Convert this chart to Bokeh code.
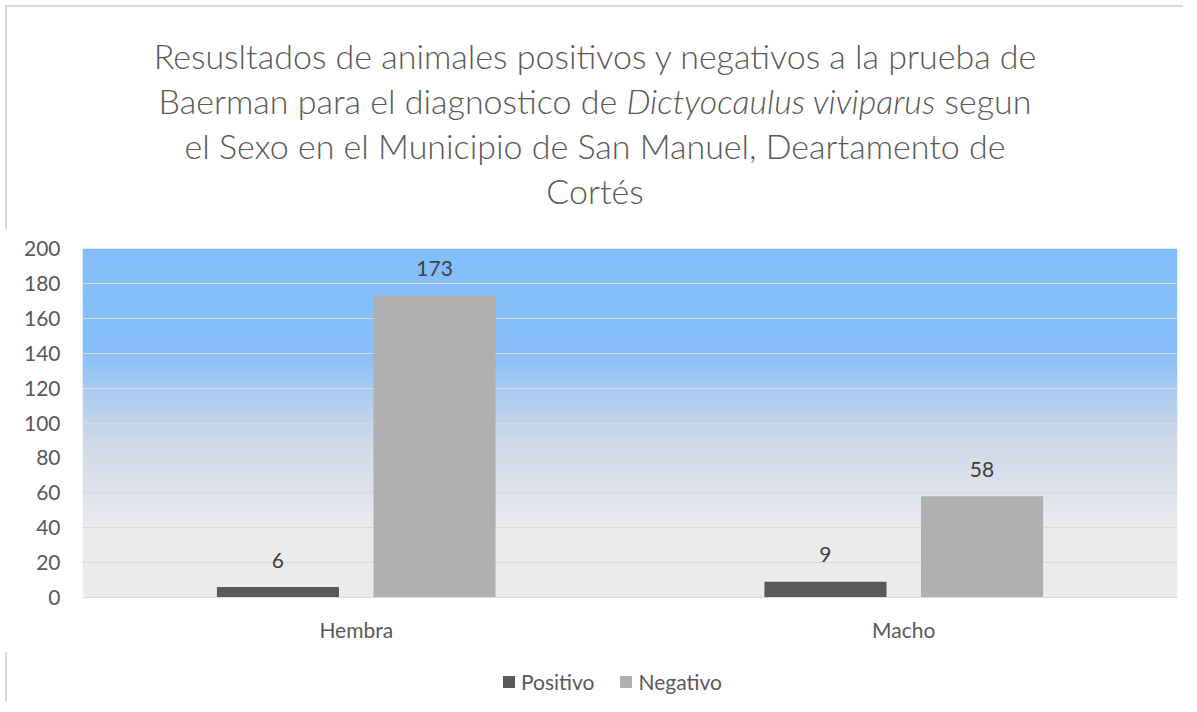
import numpy as np
from bokeh.plotting import figure
from bokeh.models import ColumnDataSource, FactorRange, Div, FixedTicker, Range1d
from bokeh.transform import dodge
from bokeh.layouts import column
from bokeh.embed import file_html
from bokeh.resources import INLINE
from bokeh.core.properties import value

# ---- data ----
categories = ["Hembra", "Macho"]
series_names = ["Positivo", "Negativo"]
series_colors = ["#595959", "#b0b0b0"]
positivo = [6, 9]
negativo = [173, 58]
y_ticks = [0, 20, 40, 60, 80, 100, 120, 140, 160, 180, 200]

FONT = "Lato"
TXT = "#595959"
FS = "21px"

src = ColumnDataSource(dict(
    cat=categories,
    pos=positivo,
    neg=negativo,
    pos_lbl=[str(v) for v in positivo],
    neg_lbl=[str(v) for v in negativo],
))

title_html = (
    '<div style="font-family:Lato;font-weight:300;font-size:34px;color:#595959;'
    'text-align:center;line-height:45px;padding-top:26px;width:1178px;height:224px;'
    'border-top:2px solid #d9d9d9;border-left:2px solid #d9d9d9;box-sizing:border-box;">'
    'Resusltados de animales positivos y negativos a la prueba de<br>'
    'Baerman para el diagnostico de <i>Dictyocaulus viviparus</i> segun<br>'
    'el Sexo en el Municipio de San Manuel, Deartamento de<br>'
    'Cortés</div>'
)
title = Div(text=title_html, width=1178, height=226)

p = figure(x_range=FactorRange(*categories), y_range=Range1d(0, y_ticks[-1]),
           width=1185, height=411,
           output_backend="svg", toolbar_location=None,
           min_border_left=82, min_border_right=8, min_border_top=12, min_border_bottom=50)
p.outline_line_color = None
p.background_fill_color = "white"
p.border_fill_color = "white"

# gradient background for the plot area
stops_pos = [0.0, 0.2, 0.45, 0.55, 0.7, 1.0]
stops_col = [(236, 236, 236), (234, 235, 237), (207, 217, 232), (182, 207, 238), (137, 192, 250), (130, 190, 252)]
n = 200
t = np.linspace(0, 1, n)
img = np.zeros((n, 1), dtype=np.uint32)
view = img.view(dtype=np.uint8).reshape((n, 1, 4))
for ch in range(3):
    view[:, 0, ch] = np.interp(t, stops_pos, [c[ch] for c in stops_col]).astype(np.uint8)
view[:, 0, 3] = 255
p.image_rgba(image=[img], x=0, y=0, dw=len(categories), dh=y_ticks[-1], level="image")

off = 0.143
bw = 0.223
p.vbar(x=dodge("cat", -off, range=p.x_range), top="pos", width=bw, source=src,
       fill_color=series_colors[0], line_color=None)
p.vbar(x=dodge("cat", off, range=p.x_range), top="neg", width=bw, source=src,
       fill_color=series_colors[1], line_color=None)

for fld, lbl, o in [("pos", "pos_lbl", -off), ("neg", "neg_lbl", off)]:
    p.text(x=dodge("cat", o, range=p.x_range), y=fld, text=lbl, source=src,
           text_align="center", text_baseline="alphabetic", y_offset=-27,
           text_font=value(FONT), text_font_size=FS, text_color="#404040")

p.ygrid.grid_line_color = "#d9d9d9"
p.xgrid.grid_line_color = None
p.yaxis.ticker = FixedTicker(ticks=y_ticks)
p.yaxis.axis_line_color = None
p.yaxis.major_tick_line_color = None
p.yaxis.minor_tick_line_color = None
p.yaxis.major_label_standoff = 16
p.yaxis.major_label_text_font = FONT
p.yaxis.major_label_text_font_size = FS
p.yaxis.major_label_text_color = TXT

p.xaxis.axis_line_color = "#d9d9d9"
p.xaxis.major_tick_line_color = None
p.xaxis.minor_tick_line_color = None
p.xaxis.major_label_standoff = 13
p.xaxis.major_label_text_font = FONT
p.xaxis.major_label_text_font_size = FS
p.xaxis.major_label_text_color = TXT

# legend (HTML, below the chart)
items_html = ""
for i, (name, col) in enumerate(zip(series_names, series_colors)):
    ml = "26px" if i > 0 else "0px"
    items_html += (
        f'<span style="display:inline-block;width:12px;height:12px;background:{col};'
        f'margin-left:{ml};margin-right:6px;vertical-align:middle;"></span>'
        f'<span style="vertical-align:middle;">{name}</span>'
    )
legend_html = (
    '<div style="font-family:Lato;font-size:21px;color:#595959;white-space:nowrap;'
    'padding-left:496px;padding-top:14px;line-height:26px;height:50px;width:1178px;'
    'border-left:2px solid #d9d9d9;box-sizing:border-box;">' + items_html + '</div>'
)
legend_div = Div(text=legend_html, width=1178, height=52)

layout = column(title, p, legend_div)

open("out.html", "w").write(file_html(layout, INLINE))
